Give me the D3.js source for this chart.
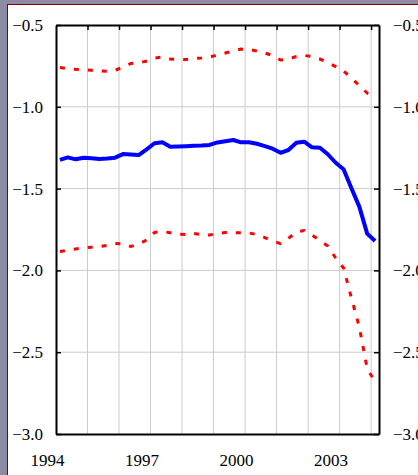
<!DOCTYPE html>
<html>
<head>
<meta charset="utf-8">
<script src="https://cdn.jsdelivr.net/npm/d3@7"></script>
<style>
  body { margin: 0; background: #8b8ba4; }
  svg { display: block; }
</style>
</head>
<body>
<svg id="chart" width="418" height="475"></svg>
<script>
// quarterly observations, 1994Q1 .. 2004Q1 (plotted at mid-quarter)
const quarters = d3.range(41).map(i => 1994 + Math.floor(i / 4) + ((i % 4) + 0.5) / 4);

const central = [
  -1.325, -1.309, -1.321, -1.311, -1.315, -1.319, -1.316, -1.311, -1.289, -1.292,
  -1.295, -1.260, -1.223, -1.217, -1.244, -1.243, -1.241, -1.238, -1.237, -1.233,
  -1.218, -1.210, -1.203, -1.217, -1.217, -1.226, -1.240, -1.256, -1.281, -1.264,
  -1.220, -1.213, -1.248, -1.250, -1.290, -1.342, -1.382, -1.498, -1.610, -1.775,
  -1.820
];
const upper = [
  -0.760, -0.766, -0.771, -0.774, -0.777, -0.781, -0.782, -0.778, -0.757, -0.735,
  -0.732, -0.720, -0.702, -0.696, -0.708, -0.711, -0.711, -0.705, -0.702, -0.696,
  -0.683, -0.671, -0.659, -0.647, -0.650, -0.659, -0.671, -0.686, -0.714, -0.708,
  -0.693, -0.686, -0.693, -0.708, -0.729, -0.754, -0.781, -0.824, -0.870, -0.916,
  -0.935
];
const lower = [
  -1.884, -1.877, -1.869, -1.863, -1.858, -1.854, -1.847, -1.836, -1.838, -1.854,
  -1.839, -1.814, -1.768, -1.762, -1.770, -1.778, -1.781, -1.774, -1.781, -1.784,
  -1.774, -1.769, -1.769, -1.770, -1.771, -1.781, -1.799, -1.820, -1.836, -1.805,
  -1.765, -1.756, -1.784, -1.817, -1.851, -1.924, -1.985, -2.169, -2.346, -2.600,
  -2.680
];

const yearLabels = [1994, 1997, 2000, 2003];
const yearTicks = [1995, 1996, 1997, 1998, 1999, 2000, 2001, 2002, 2003, 2004];
const yTicks = [-3.0, -2.5, -2.0, -1.5, -1.0, -0.5];

const svg = d3.select("#chart");

// white panel with thin dark red border
svg.append("rect")
  .attr("x", 7.5).attr("y", 4.5)
  .attr("width", 420).attr("height", 480)
  .attr("fill", "#fff")
  .attr("stroke", "#800000")
  .attr("stroke-width", 1);

const x = d3.scaleLinear().domain([1994, 2004.25]).range([56, 379]);
const y = d3.scaleLinear().domain([-3, -0.5]).range([434, 25]);

const font = '"Liberation Serif", "Times New Roman", serif';

// grid
svg.append("g")
  .selectAll("line")
  .data(yearTicks)
  .join("line")
  .attr("x1", d => x(d)).attr("x2", d => x(d))
  .attr("y1", y(-0.5)).attr("y2", y(-3))
  .attr("stroke", "#cccccc").attr("stroke-width", 1);

svg.append("g")
  .selectAll("line")
  .data(yTicks.slice(1, -1))
  .join("line")
  .attr("x1", x(1994)).attr("x2", x(2004.25))
  .attr("y1", d => y(d)).attr("y2", d => y(d))
  .attr("stroke", "#cccccc").attr("stroke-width", 1);

// series
const line = vals => d3.line()
  .x((d, i) => x(quarters[i]))
  .y(d => y(d))(vals);

svg.append("path")
  .attr("d", line(upper))
  .attr("fill", "none").attr("stroke", "#ff0000")
  .attr("stroke-width", 3).attr("stroke-dasharray", "5,9");

svg.append("path")
  .attr("d", line(lower))
  .attr("fill", "none").attr("stroke", "#ff0000")
  .attr("stroke-width", 3).attr("stroke-dasharray", "5,9");

svg.append("path")
  .attr("d", line(central))
  .attr("fill", "none").attr("stroke", "#0000ff")
  .attr("stroke-width", 4).attr("stroke-linejoin", "round");

// axes
const fmt = d3.format(".1f");
const styleAxis = g => {
  g.attr("font-family", null);
  g.select(".domain").attr("stroke", "#000").attr("stroke-width", 2);
  g.selectAll(".tick line").attr("stroke", "#000").attr("stroke-width", 1.5);
  g.selectAll("text")
    .style("font-family", font)
    .style("font-size", "17px")
    .attr("fill", "#000");
};

svg.append("g")
  .attr("transform", `translate(${x(1994)},0)`)
  .call(d3.axisLeft(y).tickValues(yTicks).tickFormat(fmt).tickSize(-5).tickSizeOuter(0).tickPadding(13))
  .call(styleAxis)
  .call(g => g.selectAll("text").attr("dy", "0.32em"));

svg.append("g")
  .attr("transform", `translate(${x(2004.25)},0)`)
  .call(d3.axisRight(y).tickValues(yTicks).tickFormat(fmt).tickSize(-5).tickSizeOuter(0).tickPadding(14))
  .call(styleAxis)
  .call(g => g.selectAll("text").attr("dy", "0.32em"));

svg.append("g")
  .attr("transform", `translate(0,${y(-0.5)})`)
  .call(d3.axisTop(x).tickValues(yearTicks).tickFormat("").tickSize(-5).tickSizeOuter(0))
  .call(styleAxis);

svg.append("g")
  .attr("transform", `translate(0,${y(-3)})`)
  .call(d3.axisBottom(x).tickValues(yearLabels).tickFormat(d3.format("d")).tickSize(0).tickSizeOuter(0).tickPadding(20))
  .call(styleAxis)
  .call(g => g.selectAll("text").attr("dx", -9));
</script>
</body>
</html>
